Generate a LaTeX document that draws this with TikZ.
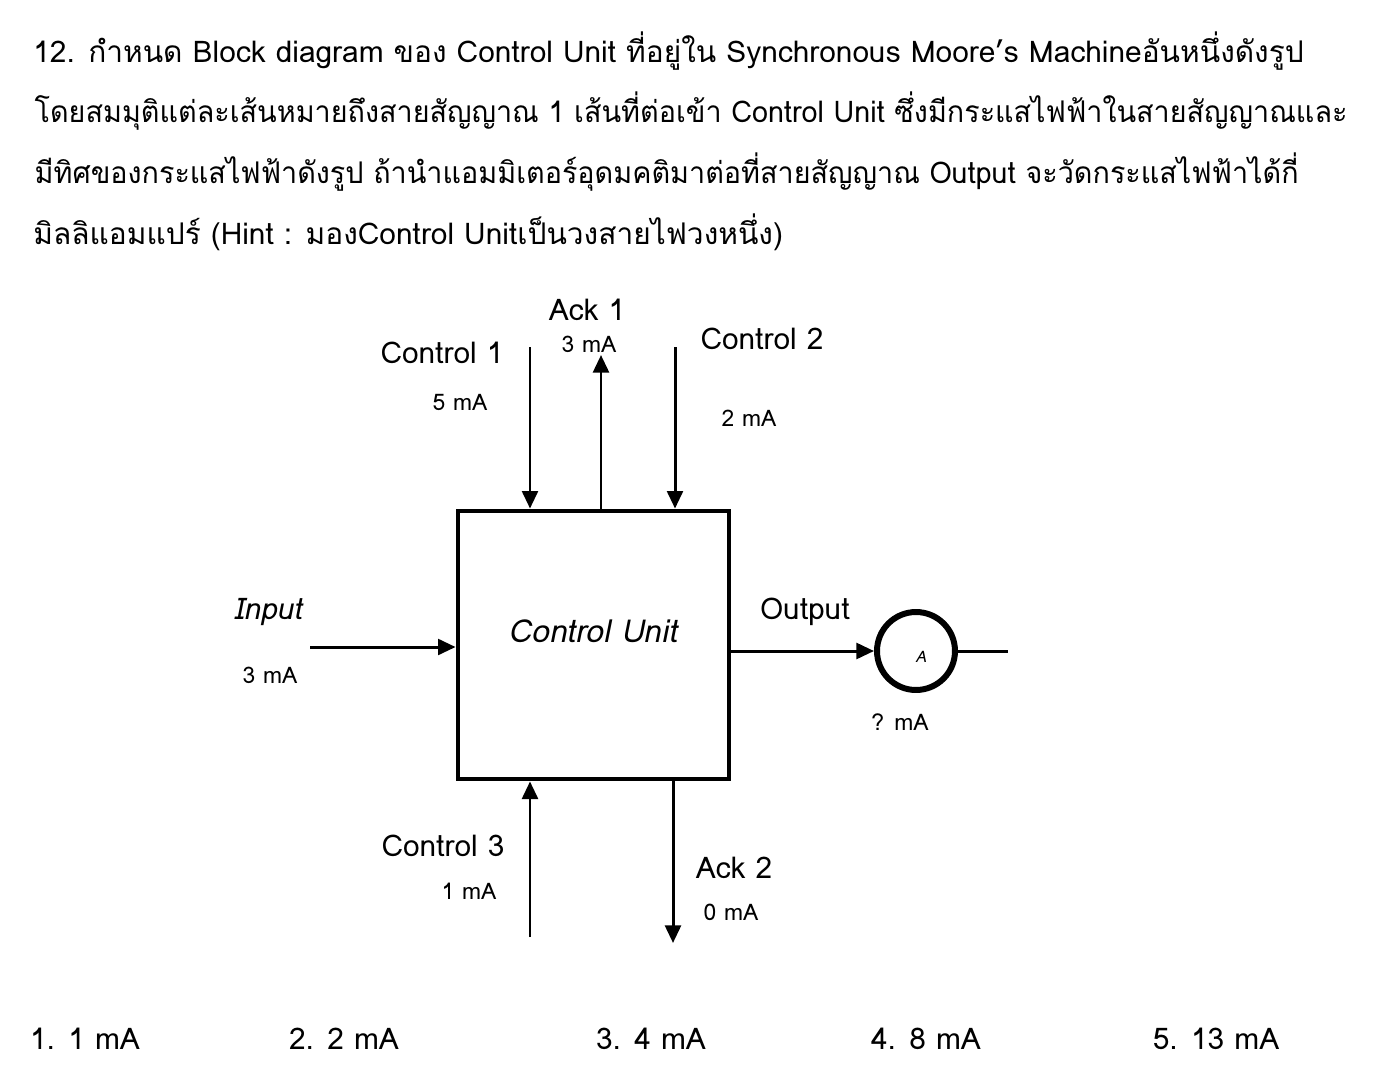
\documentclass[tikz,border=0pt]{standalone}
\usepackage{fontspec}
\setmainfont{Loma}[Script=Thai,AutoFakeSlant=0.2]
\usetikzlibrary{arrows.meta, positioning, calc}

\begin{document}
\begin{tikzpicture}[x=0.02cm, y=-0.02cm, >={Triangle[length=10pt,width=9pt]},
    line cap=butt,
    wire/.style={line width=1.7pt},
    head/.style={font=\fontsize{17}{20}\selectfont, anchor=base west, inner sep=0pt},
    lbl/.style={font=\fontsize{17}{20}\selectfont, inner sep=0pt},
    cur/.style={font=\fontsize{13}{16}\selectfont, inner sep=0pt},
    ans/.style={font=\fontsize{17}{20}\selectfont, inner sep=0pt}]

    \useasboundingbox (0,0) rectangle (1400,1092);

    % Question
    \node[head] (q1) at (33,62) {12. กำหนด Block diagram ของ Control Unit ที่อยู่ใน Synchronous Moore’s Machineอันหนึ่งดังรูป};
    \node[head, xscale=0.962, transform shape] (q2) at (34.3,122) {โดยสมมุติแต่ละเส้นหมายถึงสายสัญญาณ 1 เส้นที่ต่อเข้า Control Unit ซึ่งมีกระแสไฟฟ้าในสายสัญญาณและ};
    \node[head, xscale=0.962, transform shape] (q3) at (34.3,183) {มีทิศของกระแสไฟฟ้าดังรูป ถ้านำแอมมิเตอร์อุดมคติมาต่อที่สายสัญญาณ Output จะวัดกระแสไฟฟ้าได้กี่};
    \node[head] (q4) at (33,244) {มิลลิแอมแปร์ (Hint : มองControl Unitเป็นวงสายไฟวงหนึ่ง)};

    % Block
    \node[draw, line width=2.8pt, minimum width=5.42cm, minimum height=5.36cm] (cu) at (593.5,645) {};
    \node[lbl, font=\fontsize{18}{21}\selectfont\itshape] (cutxt) at (593,631) {Control Unit};

    % Ammeter
    \node[draw, circle, line width=3.4pt, minimum size=1.56cm, inner sep=0pt] (amm) at (916,651) {};
    \node[inner sep=0pt, font=\fontsize{9}{10}\selectfont\itshape] (ammA) at (921,657) {A};
    \coordinate (ammEnd) at (1008,651);
    \draw[wire] (amm.east) -- (ammEnd);

    % Free ends of the wires
    \coordinate (c1s) at (530,347);
    \coordinate (a1e) at (601,355);
    \coordinate (c2s) at (675,347);
    \coordinate (ins) at (310,647);
    \coordinate (c3s) at (530,937);
    \coordinate (a2e) at (673,943);

    % Wires
    \draw[wire,->] (c1s) -- (c1s |- cu.north);
    \draw[wire,->] (a1e |- cu.north) -- (a1e);
    \draw[wire,->] (c2s) -- (c2s |- cu.north);
    \draw[wire,->] (ins) -- (ins -| cu.west);
    \draw[wire,->] (cu.east |- amm.west) -- (amm.west);
    \draw[wire,->] (c3s) -- (c3s |- cu.south);
    \draw[wire,->] (a2e |- cu.south) -- (a2e);

    % Labels
    \node[lbl] (c1l) at (442,353) {Control 1};
    \node[cur] (c1i) at (460,402) {5 mA};
    \node[lbl] (a1l) at (587,310) {Ack 1};
    \node[cur] (a1i) at (589,344) {3 mA};
    \node[lbl] (c2l) at (762,339) {Control 2};
    \node[cur] (c2i) at (749,418) {2 mA};
    \node[lbl, font=\fontsize{17}{20}\selectfont\itshape] (inl) at (268,612) {Input};
    \node[cur] (ini) at (270,675) {3 mA};
    \node[lbl] (outl) at (805,612) {Output};
    \node[cur] (outi) at (900,722) {? mA};
    \node[lbl] (c3l) at (443,846) {Control 3};
    \node[cur] (c3i) at (469,891) {1 mA};
    \node[lbl] (a2l) at (734,868) {Ack 2};
    \node[cur] (a2i) at (731,912) {0 mA};

    % Choices
    \node[ans] (ch1) at (85,1039) {1. 1 mA};
    \node[ans] (ch2) at (344,1039) {2. 2 mA};
    \node[ans] (ch3) at (651,1039) {3. 4 mA};
    \node[ans] (ch4) at (926,1039) {4. 8 mA};
    \node[ans] (ch5) at (1216,1039) {5. 13 mA};

\end{tikzpicture}
\end{document}
